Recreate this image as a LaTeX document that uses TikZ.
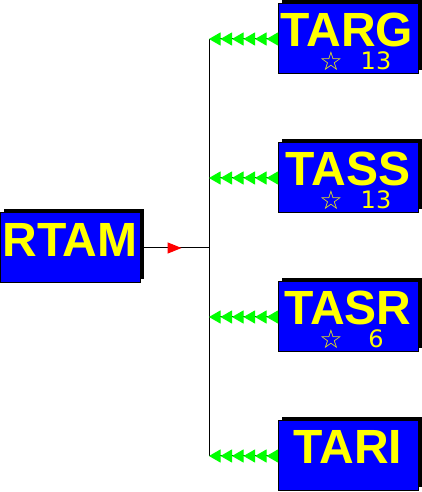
\documentclass[tikz,border=0pt]{standalone}
\usepackage{fontspec}
\setmainfont{Liberation Sans}
\newfontfamily\symfont{DejaVu Sans}
\usetikzlibrary{arrows.meta,calc,positioning,shadows,decorations.markings}
\definecolor{boxblue}{rgb}{0,0,1}
\definecolor{tipgreen}{rgb}{0,1,0}
\definecolor{tipred}{rgb}{1,0,0}
\definecolor{txtyellow}{rgb}{1,1,0}

\begin{document}
\begin{tikzpicture}[x=1pt,y=1pt,
    modbox/.style={draw=black,line width=1pt,fill=boxblue,minimum width=140pt,minimum height=70pt,inner sep=0pt,
      drop shadow={shadow xshift=4pt,shadow yshift=4pt,fill=black,opacity=1}},
    titletext/.style={text=txtyellow,anchor=base,inner sep=0pt,text height=35pt,text depth=0pt,
      font=\fontsize{48}{48}\selectfont\bfseries},
    counttext/.style={text=txtyellow,anchor=base,inner sep=0pt,text height=18pt,text depth=0pt,
      font=\symfont\fontsize{24}{24}\selectfont},
    startext/.style={text=txtyellow,anchor=base,inner sep=0pt,text height=18pt,text depth=0pt,
      font=\symfont\fontsize{26}{26}\selectfont},
    greenline/.style={line width=1pt,-{Triangle[length=11.5pt,width=13pt,sep=0pt,color=tipgreen,fill=tipgreen]
      Triangle[length=11.5pt,width=13pt,sep=0pt,color=tipgreen,fill=tipgreen]
      Triangle[length=11.5pt,width=13pt,sep=0pt,color=tipgreen,fill=tipgreen]
      Triangle[length=11.5pt,width=13pt,sep=0pt,color=tipgreen,fill=tipgreen]
      Triangle[length=11.5pt,width=13pt,sep=0pt,color=tipgreen,fill=tipgreen]
      Triangle[length=11.5pt,width=13pt,sep=0pt,color=tipgreen,fill=tipgreen]}},
    redline/.style={line width=1pt,postaction={decorate,decoration={markings,
      mark=at position 0.6 with {\arrow{Triangle[length=14pt,width=11pt,color=tipred,fill=tipred]}}}}}]
  \useasboundingbox (0,0) rectangle (422,492);
  % boxes
  \node[modbox] (rtam) at (70,244) {};
  \node[modbox] (targ) at (348,453) {};
  \node[modbox] (tass) at (348,314) {};
  \node[modbox] (tasr) at (348,175) {};
  \node[modbox] (tari) at (348,36) {};
  % titles
  \node[titletext] (rtam-t) at ([yshift=-9pt]rtam.center) {RTAM};
  \node[titletext] (targ-t) at ([xshift=-1pt,yshift=-8pt]targ.center) {TARG};
  \node[titletext] (tass-t) at ([yshift=-8pt]tass.center) {TASS};
  \node[titletext] (tasr-t) at ([yshift=-8pt]tasr.center) {TASR};
  \node[titletext] (tari-t) at ([yshift=-8pt]tari.center) {TARI};
  % stars and counts
  \node[startext] (targ-s) at ([xshift=-17pt,yshift=-32pt]targ.center) {☆};
  \node[counttext] (targ-n) at ([xshift=28pt,yshift=-31pt]targ.center) {13};
  \node[startext] (tass-s) at ([xshift=-17pt,yshift=-32pt]tass.center) {☆};
  \node[counttext] (tass-n) at ([xshift=28pt,yshift=-31pt]tass.center) {13};
  \node[startext] (tasr-s) at ([xshift=-17pt,yshift=-32pt]tasr.center) {☆};
  \node[counttext] (tasr-n) at ([xshift=28pt,yshift=-31pt]tasr.center) {6};
  % bus
  \coordinate (bus) at (209,244);
  \coordinate (targ-in) at (targ.west -| bus);
  \coordinate (tass-in) at (tass.west -| bus);
  \coordinate (tasr-in) at (tasr.west -| bus);
  \coordinate (tari-in) at (tari.west -| bus);
  \draw[line width=1pt] (targ-in) -- (tari-in);
  \draw[redline] (rtam.east) -- (bus);
  \draw[greenline] (targ.west) -- (targ-in);
  \draw[greenline] (tass.west) -- (tass-in);
  \draw[greenline] (tasr.west) -- (tasr-in);
  \draw[greenline] (tari.west) -- (tari-in);
\end{tikzpicture}
\end{document}
